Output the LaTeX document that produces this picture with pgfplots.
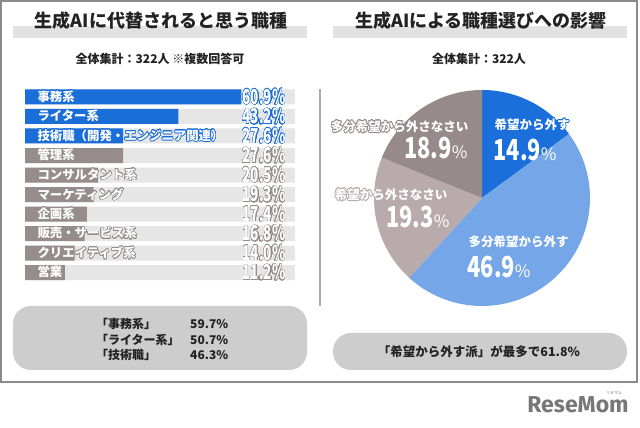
\documentclass[border=0pt]{standalone}
\usepackage{pgfplots}
\pgfplotsset{compat=1.18}
\usepackage{graphicx}
\usepackage{fontspec}
\setmainfont{Noto Sans CJK JP}
\newfontfamily\logofont{Fira Sans}
\usepackage{contour}
\contourlength{0.6pt}
\contournumber{24}
\definecolor{barblue}{HTML}{1A6ED8}
\definecolor{bargray}{HTML}{978C8C}
\definecolor{bgbar}{HTML}{E6E6E6}
\definecolor{pieA}{HTML}{1A6FDA}
\definecolor{pieB}{HTML}{74A6E8}
\definecolor{pieC}{HTML}{B9ABAB}
\definecolor{pieD}{HTML}{968A8A}
\definecolor{band}{HTML}{E2E2E2}
\definecolor{boxgray}{HTML}{CDCDCD}
\definecolor{txt}{HTML}{222222}
\definecolor{framec}{HTML}{8A8A8A}
\definecolor{divc}{HTML}{AAAAAA}
\definecolor{logoc}{HTML}{777777}
% pie values
\def\pA{14.9}\def\pB{46.9}\def\pC{19.3}\def\pD{18.9}
\newcommand\val[2]{\scalebox{0.66}[1]{\fontsize{20.5}{20}\selectfont\bfseries\color{white}\contourlength{0.45pt}\contour{#1}{#2}}}
\newcommand\cat[2]{{\fontsize{12.4}{12}\selectfont\bfseries\color{white}\contour{#1}{#2}}}
\newcommand\pnum[1]{\scalebox{0.75}[1]{\fontsize{29}{29}\selectfont\bfseries #1}{\fontsize{17}{17}\selectfont\%}}
\newcommand\plab[2]{{\fontsize{12.5}{12.5}\selectfont\bfseries\color{white}\contour{#1}{#2}}}
\begin{document}
\begin{tikzpicture}[x=1pt,y=1pt]
\useasboundingbox (0,0) rectangle (640,428);
\fill[white] (0,0) rectangle (640,428);
\draw[framec, line width=1.2pt] (1,46) rectangle (637,427);
% titles
\fill[band] (13,390) rectangle (307,402);
\fill[band] (333,390) rectangle (627,402);
\node[anchor=base, text=txt, font=\fontsize{18}{18}\selectfont\bfseries] at (161,400) {生成AIに代替されると思う職種};
\node[anchor=base, text=txt, font=\fontsize{18}{18}\selectfont\bfseries] at (481,400) {生成AIによる職種選びへの影響};
\node[anchor=base, text=txt, font=\fontsize{12}{12}\selectfont\bfseries] at (160,364) {全体集計：322人 ※複数回答可};
\node[anchor=base, text=txt, font=\fontsize{12}{12}\selectfont\bfseries] at (479,364) {全体集計：322人};
\draw[divc, line width=1.2pt] (320,339) -- (320,122);
% bar chart
\begin{axis}[at={(25pt,340.75pt)}, anchor=north west, scale only axis,
  width=270pt, height=195pt, xmin=0, xmax=76, ymin=-0.5, ymax=9.5,
  y dir=reverse, axis lines=none, xbar, bar width=15pt, bar shift=0pt, clip=false]
\addplot[fill=bgbar, draw=none] coordinates {(76,0) (76,1) (76,2) (76,3) (76,4) (76,5) (76,6) (76,7) (76,8) (76,9)};
\addplot[fill=barblue, draw=none] coordinates {(60.9,0) (43.2,1) (27.6,2)};
\addplot[fill=bargray, draw=none] coordinates {(27.6,3) (20.5,4) (19.3,5) (17.4,6) (16.8,7) (14.0,8) (11.2,9)};
\node[anchor=west, xshift=9pt] at (axis cs:0,0) {\cat{barblue}{事務系}};
\node[anchor=west, xshift=9pt] at (axis cs:0,1) {\cat{barblue}{ライター系}};
\node[anchor=west, xshift=9pt] at (axis cs:0,2) {\cat{barblue}{技術職（開発・エンジニア関連）}};
\node[anchor=west, xshift=9pt] at (axis cs:0,3) {\cat{bargray}{管理系}};
\node[anchor=west, xshift=9pt] at (axis cs:0,4) {\cat{bargray}{コンサルタント系}};
\node[anchor=west, xshift=9pt] at (axis cs:0,5) {\cat{bargray}{マーケティング}};
\node[anchor=west, xshift=9pt] at (axis cs:0,6) {\cat{bargray}{企画系}};
\node[anchor=west, xshift=9pt] at (axis cs:0,7) {\cat{bargray}{販売・サービス系}};
\node[anchor=west, xshift=9pt] at (axis cs:0,8) {\cat{bargray}{クリエイティブ系}};
\node[anchor=west, xshift=9pt] at (axis cs:0,9) {\cat{bargray}{営業}};
\node[anchor=east, xshift=-6pt] at (axis cs:76,0) {\val{barblue}{60.9\%}};
\node[anchor=east, xshift=-6pt] at (axis cs:76,1) {\val{barblue}{43.2\%}};
\node[anchor=east, xshift=-6pt] at (axis cs:76,2) {\val{barblue}{27.6\%}};
\node[anchor=east, xshift=-6pt] at (axis cs:76,3) {\val{bargray}{27.6\%}};
\node[anchor=east, xshift=-6pt] at (axis cs:76,4) {\val{bargray}{20.5\%}};
\node[anchor=east, xshift=-6pt] at (axis cs:76,5) {\val{bargray}{19.3\%}};
\node[anchor=east, xshift=-6pt] at (axis cs:76,6) {\val{bargray}{17.4\%}};
\node[anchor=east, xshift=-6pt] at (axis cs:76,7) {\val{bargray}{16.8\%}};
\node[anchor=east, xshift=-6pt] at (axis cs:76,8) {\val{bargray}{14.0\%}};
\node[anchor=east, xshift=-6pt] at (axis cs:76,9) {\val{bargray}{11.2\%}};
\end{axis}
% pie chart
\begin{axis}[at={(482pt,230pt)}, anchor=center, scale only axis,
  width=216pt, height=216pt, xmin=-1, xmax=1, ymin=-1, ymax=1,
  axis lines=none, clip=false]
\fill[pieA] (axis cs:0,0) -- ++(90:108pt) arc[start angle=90, delta angle={-3.6*\pA}, radius=108pt] -- cycle;
\fill[pieB] (axis cs:0,0) -- ++({90-3.6*\pA}:108pt) arc[start angle={90-3.6*\pA}, delta angle={-3.6*\pB}, radius=108pt] -- cycle;
\fill[pieC] (axis cs:0,0) -- ++({90-3.6*(\pA+\pB)}:108pt) arc[start angle={90-3.6*(\pA+\pB)}, delta angle={-3.6*\pC}, radius=108pt] -- cycle;
\fill[pieD] (axis cs:0,0) -- ++({90-3.6*(\pA+\pB+\pC)}:108pt) arc[start angle={90-3.6*(\pA+\pB+\pC)}, delta angle={-3.6*\pD}, radius=108pt] -- cycle;
\end{axis}
% pie labels
\node[anchor=west] at (491,303) {\plab{pieA}{希望から外す}};
\node[anchor=west, text=white] at (490,278) {\pnum{14.9}};
\node[anchor=west] at (465,186) {\plab{pieB}{多分希望から外す}};
\node[anchor=west, text=white] at (464,161) {\pnum{46.9}};
\node[anchor=east] at (451,233) {\plab{pieC}{希望から外さなさい}};
\node[anchor=east, text=white] at (453,211) {\pnum{19.3}};
\node[anchor=east] at (472,301) {\plab{pieD}{多分希望から外さなさい}};
\node[anchor=east, text=white] at (471,280) {\pnum{18.9}};
% bottom boxes
\fill[boxgray, rounded corners=18pt] (13,58) rectangle (307,122);
\fill[boxgray, rounded corners=18pt] (333,58) rectangle (627,95);
\begin{scope}[every node/.style={text=txt, font=\fontsize{12}{12}\selectfont\bfseries, inner sep=0pt}]
\node[anchor=base west] at (96,99) {「事務系」};
\node[anchor=base west] at (96,83) {「ライター系」};
\node[anchor=base west] at (96,68) {「技術職」};
\node[anchor=base west] at (190,99) {59.7\%};
\node[anchor=base west] at (190,83) {50.7\%};
\node[anchor=base west] at (190,68) {46.3\%};
\node[anchor=base, font=\fontsize{12.5}{12.5}\selectfont\bfseries] at (479,71) {「希望から外す派」が最多で61.8\%};
\end{scope}
% logo
\node[anchor=base, text=logoc, font=\logofont\bfseries\fontsize{23}{23}\selectfont, inner sep=0pt] at (578,15) {ReseMom};
\node[anchor=center, text=logoc, font=\fontsize{4}{4}\selectfont, inner sep=0pt] at (614,35) {リセマム};
\end{tikzpicture}
\end{document}
